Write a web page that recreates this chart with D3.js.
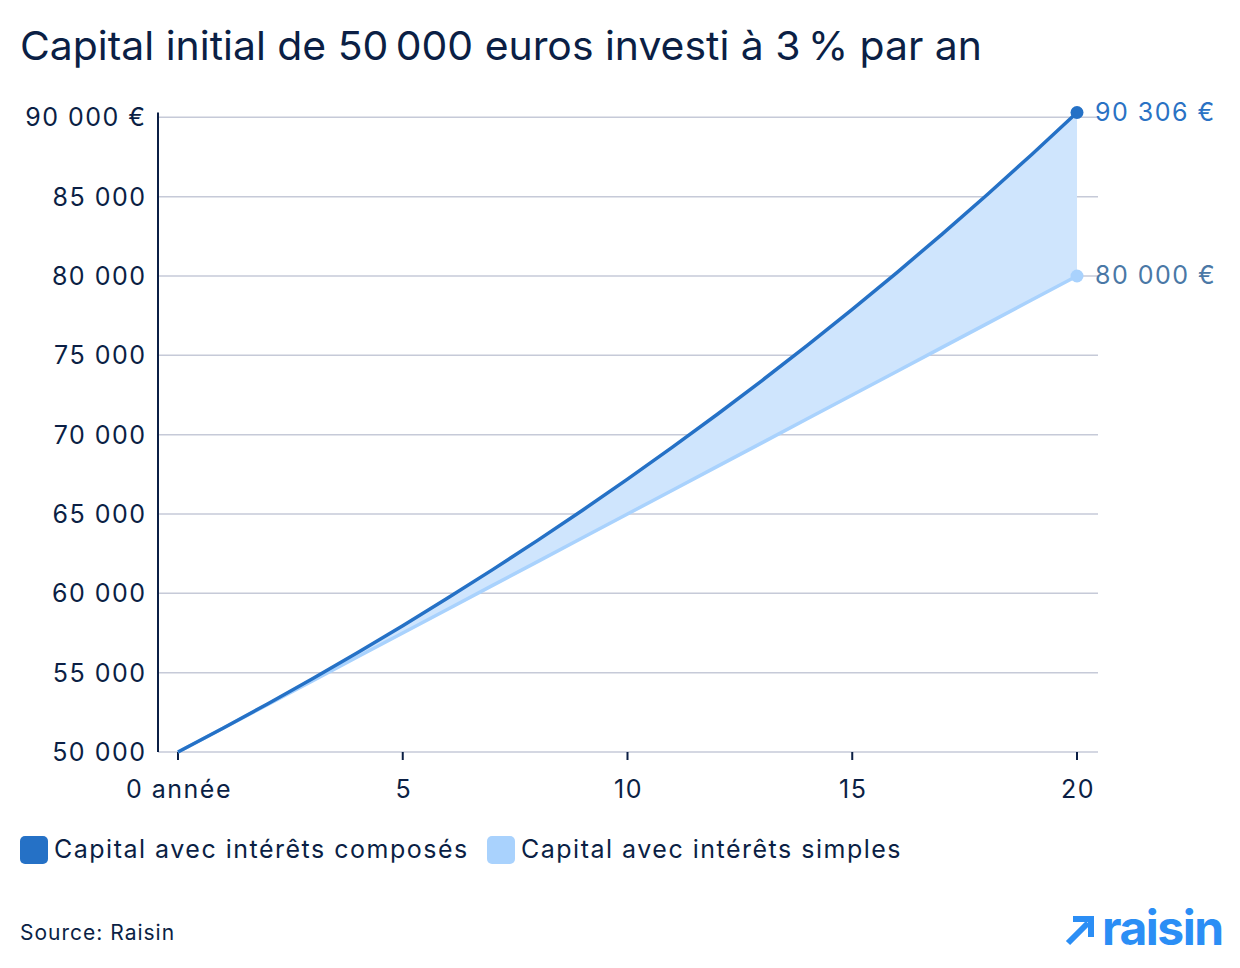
<!DOCTYPE html>
<html>
<head>
<meta charset="utf-8">
<script src="https://cdn.jsdelivr.net/npm/d3@7"></script>
<style>
  body { margin: 0; background: #fff; }
  svg { font-family: Inter, "Noto Sans", sans-serif; }
</style>
</head>
<body>
<div id="chart"></div>
<script>
// data
const years = [0,1,2,3,4,5,6,7,8,9,10,11,12,13,14,15,16,17,18,19,20];
const compound = [50000,51500,53045,54636,56275,57964,59703,61494,63339,65239,67196,
  69212,71288,73427,75629,77898,80235,82642,85122,87675,90306];
const simple = [50000,51500,53000,54500,56000,57500,59000,60500,62000,63500,65000,
  66500,68000,69500,71000,72500,74000,75500,77000,78500,80000];
const yTicks = [50000,55000,60000,65000,70000,75000,80000,85000,90000];
const xTicks = [0,5,10,15,20];
const seriesNames = ["Capital avec intérêts composés", "Capital avec intérêts simples"];

const width = 1240, height = 968;
const ink = "#0b1f45";
const dark = "#2571c6", light = "#a9d2fd", fillCol = "#cfe5fd";
const fs = 25, ls = 1.5;

const svg = d3.select("#chart").append("svg")
  .attr("width", width).attr("height", height);

const x = d3.scaleLinear().domain([0, 20]).range([178, 1077]);
const y = d3.scaleLinear().domain([50000, 90306]).range([752, 112.5]);

// title
svg.append("text")
  .attr("x", 20).attr("y", 60)
  .attr("font-size", 40).attr("fill", ink)
  .attr("textLength", 962).attr("lengthAdjust", "spacingAndGlyphs")
  .text("Capital initial de 50\u2009000 euros investi à 3\u2009% par an");

// grid
svg.append("g").selectAll("line")
  .data(yTicks)
  .join("line")
    .attr("x1", 158).attr("x2", 1098)
    .attr("y1", d => y(d)).attr("y2", d => y(d))
    .attr("stroke", "#c6cad8").attr("stroke-width", 1.5);

// y axis line
svg.append("line")
  .attr("x1", 158).attr("x2", 158).attr("y1", y(90306)).attr("y2", 752)
  .attr("stroke", ink).attr("stroke-width", 2);

// y labels
svg.append("g").selectAll("text")
  .data(yTicks)
  .join("text")
    .attr("x", 146.5).attr("y", d => y(d) + 9)
    .attr("text-anchor", "end").attr("font-size", fs).attr("letter-spacing", ls).attr("fill", ink)
    .text(d => d3.format(",")(d).replace(",", " ") + (d === 90000 ? " €" : ""));

// x ticks
svg.append("g").selectAll("line")
  .data(xTicks)
  .join("line")
    .attr("x1", d => x(d)).attr("x2", d => x(d))
    .attr("y1", 752).attr("y2", 760)
    .attr("stroke", ink).attr("stroke-width", 2);

svg.append("g").selectAll("text")
  .data(xTicks)
  .join("text")
    .attr("x", d => x(d) + 1).attr("y", 798)
    .attr("text-anchor", "middle").attr("font-size", fs).attr("letter-spacing", ls).attr("fill", ink)
    .text(d => d === 0 ? "0 année" : d);

// area between
const rows = years.map((yr, i) => ({ yr, c: compound[i], s: simple[i] }));
svg.append("path")
  .datum(rows)
  .attr("d", d3.area().x(d => x(d.yr)).y0(d => y(d.s)).y1(d => y(d.c)))
  .attr("fill", fillCol);

const line = key => d3.line().x(d => x(d.yr)).y(d => y(d[key]));
svg.append("path").datum(rows).attr("d", line("s"))
  .attr("fill", "none").attr("stroke", light).attr("stroke-width", 3.5);
svg.append("path").datum(rows).attr("d", line("c"))
  .attr("fill", "none").attr("stroke", dark).attr("stroke-width", 3.5);

// end points & labels
const last = rows[rows.length - 1];
svg.append("circle").attr("cx", x(last.yr)).attr("cy", y(last.s)).attr("r", 6.5).attr("fill", light);
svg.append("circle").attr("cx", x(last.yr)).attr("cy", y(last.c)).attr("r", 6.5).attr("fill", dark);
svg.append("text").attr("x", 1095).attr("y", y(last.c) + 8)
  .attr("font-size", fs).attr("letter-spacing", ls).attr("fill", "#2a72c4")
  .text("90 306 €");
svg.append("text").attr("x", 1095).attr("y", y(last.s) + 8)
  .attr("font-size", fs).attr("letter-spacing", ls).attr("fill", "#4a78a6")
  .text("80 000 €");

// legend
const legend = svg.append("g");
const lx = [20, 487];
seriesNames.forEach((name, i) => {
  legend.append("rect")
    .attr("x", lx[i]).attr("y", 836).attr("width", 28).attr("height", 28).attr("rx", 5)
    .attr("fill", i === 0 ? dark : light);
  legend.append("text")
    .attr("x", lx[i] + 34).attr("y", 858)
    .attr("font-size", fs).attr("letter-spacing", ls).attr("fill", ink)
    .text(name);
});

// source
svg.append("text").attr("x", 20).attr("y", 940)
  .attr("font-size", 21).attr("letter-spacing", 1).attr("fill", ink).text("Source: Raisin");

// logo
const logo = svg.append("g").attr("fill", "#2b8ef5");
logo.append("path")
  .attr("d", "M1068,943 L1088,923 M1073,919 L1091,919 L1091,937")
  .attr("stroke", "#2b8ef5").attr("stroke-width", 6).attr("fill", "none");
logo.append("text").attr("x", 1102).attr("y", 945)
  .attr("font-size", 48).attr("font-weight", 700).attr("letter-spacing", -1.5)
  .text("raisin");
</script>
</body>
</html>
